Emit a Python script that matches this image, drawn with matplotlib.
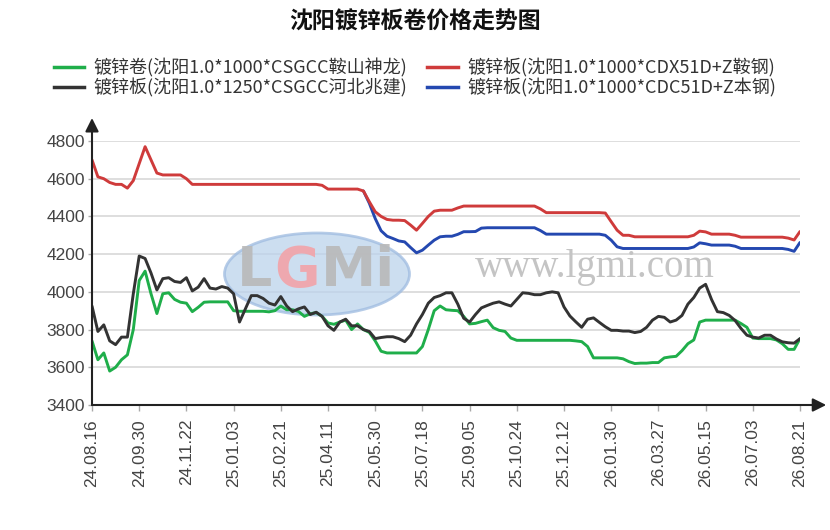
import numpy as np
import matplotlib
matplotlib.use("Agg")
import matplotlib.pyplot as plt
from matplotlib.patches import Ellipse
from matplotlib.lines import Line2D

plt.rcParams['font.family'] = ['Noto Sans CJK SC', 'DejaVu Sans']

title = "沈阳镀锌板卷价格走势图"
tick_labels = ["24.08.16", "24.09.30", "24.11.22", "25.01.03", "25.02.21", "25.04.11",
               "25.05.30", "25.07.18", "25.09.05", "25.10.24", "25.12.12", "26.01.30",
               "26.03.27", "26.05.15", "26.07.03", "26.08.21"]

name_green = "镀锌卷(沈阳1.0*1000*CSGCC鞍山神龙)"
name_red = "镀锌板(沈阳1.0*1000*CDX51D+Z鞍钢)"
name_black = "镀锌板(沈阳1.0*1250*CSGCC河北兆建)"
name_blue = "镀锌板(沈阳1.0*1000*CDC51D+Z本钢)"

green = [3740, 3640, 3676, 3580, 3600, 3640, 3666, 3800, 4060, 4110,
         3990, 3885, 3990, 3995, 3960, 3945, 3940, 3895, 3918, 3945,
         3947, 3947, 3947, 3947, 3900, 3897, 3897, 3897, 3897, 3897,
         3894, 3900, 3925, 3905, 3905, 3896, 3870, 3884, 3890, 3870,
         3835, 3828, 3840, 3850, 3800, 3830, 3800, 3785, 3740, 3685,
         3676, 3676, 3676, 3676, 3676, 3676, 3710, 3800, 3900, 3925,
         3905, 3902, 3900, 3870, 3830, 3833, 3842, 3850, 3810, 3796,
         3790, 3755, 3743, 3743, 3743, 3743, 3743, 3743, 3743, 3743,
         3743, 3743, 3740, 3736, 3710, 3650, 3650, 3650, 3650, 3650,
         3645, 3630, 3620, 3622, 3622, 3625, 3625, 3650, 3655, 3658,
         3688, 3725, 3745, 3840, 3850, 3850, 3850, 3850, 3850, 3850,
         3832, 3812, 3755, 3752, 3752, 3752, 3745, 3725, 3695, 3695,
         3752]

red = [4700, 4610, 4600, 4580, 4570, 4570, 4550, 4590, 4680, 4770,
       4700, 4630, 4620, 4620, 4620, 4620, 4600, 4570, 4570, 4570,
       4570, 4570, 4570, 4570, 4570, 4570, 4570, 4570, 4570, 4570,
       4570, 4570, 4570, 4570, 4570, 4570, 4570, 4570, 4570, 4565,
       4545, 4545, 4545, 4545, 4545, 4545, 4535, 4478, 4425, 4400,
       4384, 4380, 4380, 4378, 4354, 4327, 4363, 4400, 4428, 4433,
       4433, 4433, 4445, 4455, 4455, 4455, 4455, 4455, 4455, 4455,
       4455, 4455, 4455, 4455, 4455, 4455, 4440, 4420, 4420, 4420,
       4420, 4420, 4420, 4420, 4420, 4420, 4420, 4418, 4372, 4327,
       4300, 4300, 4292, 4292, 4292, 4292, 4292, 4292, 4292, 4292,
       4292, 4292, 4300, 4322, 4318, 4306, 4306, 4306, 4306, 4300,
       4290, 4290, 4290, 4290, 4290, 4290, 4290, 4290, 4285, 4275,
       4320]

black = [3925, 3790, 3825, 3740, 3720, 3760, 3760, 3990, 4190, 4177,
         4100, 4010, 4070, 4075, 4055, 4050, 4075, 4005, 4025, 4070,
         4020, 4015, 4028, 4020, 3990, 3840, 3910, 3980, 3980, 3965,
         3940, 3930, 3975, 3925, 3895, 3910, 3920, 3880, 3892, 3870,
         3820, 3796, 3840, 3855, 3820, 3820, 3800, 3790, 3752, 3758,
         3762, 3762, 3752, 3736, 3770, 3830, 3880, 3940, 3970, 3980,
         3995, 3995, 3935, 3860, 3840, 3880, 3915, 3928, 3940, 3947,
         3935, 3925, 3960, 3995, 3992, 3985, 3985, 3995, 4000, 3995,
         3920, 3872, 3841, 3812, 3855, 3862, 3838, 3815, 3796, 3796,
         3792, 3792, 3784, 3790, 3812, 3850, 3870, 3865, 3840, 3850,
         3875, 3935, 3970, 4020, 4040, 3960, 3895, 3890, 3875, 3848,
         3806, 3770, 3760, 3755, 3770, 3770, 3750, 3735, 3730, 3728,
         3752]

blue = [None, None, None, None, None, None, None, None, None, None,
        None, None, None, None, None, None, None, None, None, None,
        None, None, None, None, None, None, None, None, None, None,
        None, None, None, None, None, None, None, None, None, None,
        None, None, None, None, None, None, 4535, 4470, 4389, 4324,
        4295, 4283, 4270, 4265, 4235, 4207, 4221, 4248, 4274, 4292,
        4295, 4295, 4305, 4319, 4319, 4320, 4338, 4340, 4340, 4340,
        4340, 4340, 4340, 4340, 4340, 4340, 4325, 4306, 4306, 4306,
        4306, 4306, 4306, 4306, 4306, 4306, 4306, 4300, 4274, 4239,
        4230, 4230, 4230, 4230, 4230, 4230, 4230, 4230, 4230, 4230,
        4230, 4230, 4238, 4260, 4255, 4248, 4248, 4248, 4248, 4242,
        4230, 4230, 4230, 4230, 4230, 4230, 4230, 4230, 4225, 4215,
        4262]

y_ticks = [3400, 3600, 3800, 4000, 4200, 4400, 4600, 4800]

W, H = 830, 530
fig = plt.figure(figsize=(W / 100, H / 100), dpi=100)
fig.patch.set_facecolor('white')

L, R, T, B = 92, 800, 141, 405
ax = fig.add_axes([L / W, 1 - B / H, (R - L) / W, (B - T) / H])

n = len(green)
x = np.arange(n)
step = (n - 1) // (len(tick_labels) - 1)

c_green = '#1fae4a'
c_red = '#cf3b3b'
c_black = '#333333'
c_blue = '#2448b0'

lw = 2.1
kw = dict(lw=lw, solid_capstyle='round', solid_joinstyle='round')
ax.plot(x, np.array(blue, dtype=float), color=c_blue, zorder=3, **kw)
ax.plot(x, np.array(red, dtype=float), color=c_red, zorder=4, **kw)
ax.plot(x, np.array(green, dtype=float), color=c_green, zorder=3, **kw)
ax.plot(x, np.array(black, dtype=float), color=c_black, zorder=4, **kw)

ax.set_xlim(0, n - 1)
ax.set_ylim(y_ticks[0], y_ticks[-1])

for s in ax.spines.values():
    s.set_visible(False)

ax.set_yticks(y_ticks)
ax.set_yticklabels([str(v) for v in y_ticks], fontsize=12.5, color='#444444',
                   family='Liberation Sans')
ax.set_xticks(x[::step])
ax.set_xticklabels(tick_labels, rotation=90, fontsize=12.5, color='#444444',
                   family='Liberation Sans')
ax.tick_params(axis='x', length=4, width=1, color='#aaaaaa', pad=6)
ax.tick_params(axis='y', length=3, width=1, color='#aaaaaa', pad=2)

ax.grid(axis='y', color='#d8d8d8', lw=1.2)
ax.set_axisbelow(True)

# axes with arrows
ax.annotate('', xy=(1.037, 0), xytext=(0, 0), xycoords='axes fraction',
            arrowprops=dict(arrowstyle='-|>', color='#222222', lw=1.5, mutation_scale=20,
                            shrinkA=0, shrinkB=0), annotation_clip=False, zorder=5)
ax.annotate('', xy=(0, 1.087), xytext=(0, 0), xycoords='axes fraction',
            arrowprops=dict(arrowstyle='-|>', color='#222222', lw=1.5, mutation_scale=20,
                            shrinkA=0, shrinkB=0), annotation_clip=False, zorder=5)

# watermark
ex, ey = (317 - L) / (R - L), (B - 274) / (B - T)
ell = Ellipse((ex, ey), 185 / (R - L), 82 / (B - T), transform=ax.transAxes,
              facecolor='#bcd3ec', edgecolor='#9ebbe0', lw=2, alpha=0.75, zorder=1)
ax.add_patch(ell)
wm_font = dict(transform=ax.transAxes, fontsize=40, fontweight='bold', family='DejaVu Sans',
               va='center', ha='center', zorder=1.5, alpha=0.9)
ax.text((255 - L) / (R - L), (B - 271) / (B - T), "L", color='#b9b9b9', **wm_font)
ax.text((297 - L) / (R - L), (B - 271) / (B - T), "G", color='#f2a3a8', **wm_font)
ax.text((358 - L) / (R - L), (B - 271) / (B - T), "Mi", color='#b9b9b9', **wm_font)
ax.text((595 - L) / (R - L), (B - 268) / (B - T), "www.lgmi.com", color='#c4c4c4',
        transform=ax.transAxes, fontsize=28, family='Liberation Serif',
        va='center', ha='center', zorder=1.5)

fig.text(0.5, 1 - 22 / H, title, ha='center', va='center', fontsize=16.5,
         fontweight='bold', color='#111111')

handles = [Line2D([], [], color=c_green, lw=2.5), Line2D([], [], color=c_black, lw=2.5),
           Line2D([], [], color=c_red, lw=2.5), Line2D([], [], color=c_blue, lw=2.5)]
labels = [name_green, name_black, name_red, name_blue]
leg = fig.legend(handles, labels, ncol=2, loc='center', bbox_to_anchor=(0.5, 1 - 78 / H),
                 frameon=False, fontsize=13, handlelength=1.67, handletextpad=0.55,
                 columnspacing=1.1, labelspacing=0.05)
for t in leg.get_texts():
    t.set_color('#333333')

fig.savefig('out.png', dpi=100, facecolor='white')
